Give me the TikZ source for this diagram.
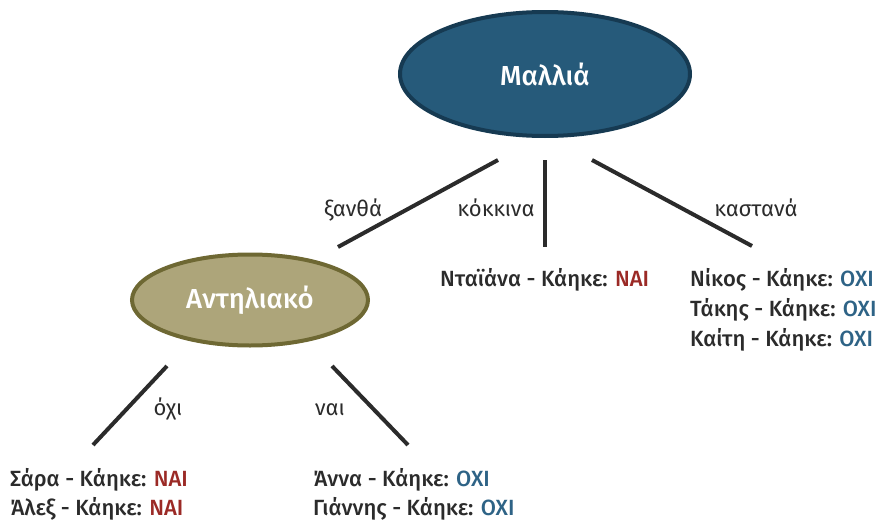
\documentclass[tikz,border=0pt]{standalone}
\usepackage{fontspec}
\setmainfont{Fira Sans}
\newfontfamily\medfont{Fira Sans}[UprightFont={* Medium}]
\usepackage{tikz}
\usetikzlibrary{shapes.geometric}

\definecolor{hairfill}{HTML}{265A7A}
\definecolor{hairline}{HTML}{163A52}
\definecolor{sunfill}{HTML}{ADA57A}
\definecolor{sunline}{HTML}{6E6833}
\definecolor{naired}{HTML}{9B2A26}
\definecolor{oxiblue}{HTML}{2E6386}
\definecolor{inkgray}{HTML}{2B2B2B}

\newcommand{\nai}{\textcolor{naired}{ΝΑΙ}}
\newcommand{\oxi}{\textcolor{oxiblue}{ΟΧΙ}}

\tikzset{
    question/.style={
           ellipse,
           line width=4pt,
           inner sep=0pt,
           text=white,
           font=\medfont\fontsize{27.5}{30}\selectfont
           },
    branch/.style={
           draw=inkgray,
           line width=4pt
           },
    choice/.style={
           anchor=base,
           inner sep=0pt,
           text=inkgray,
           font=\fontsize{22}{24}\selectfont
           },
    answer/.style={
           anchor=base west,
           inner sep=0pt,
           text=inkgray,
           font=\medfont\fontsize{22}{29}\selectfont
           },
}

\begin{document}
\begin{tikzpicture}[x=1pt,y=-1pt]
    \useasboundingbox (0,0) rectangle (879,522);

    % the two questions
    \node[question, fill=hairfill, draw=hairline,
          minimum width=290pt, minimum height=124pt] (hair) at (545,74) {Μαλλιά};
    \node[question, fill=sunfill, draw=sunline,
          minimum width=236pt, minimum height=91pt] (sun) at (250,300) {Αντηλιακό};

    % ends of the branches
    \coordinate (hair-a) at (498,160);
    \coordinate (hair-b) at (545,160);
    \coordinate (hair-c) at (592,160);
    \coordinate (blond)  at (338,247);
    \coordinate (red)    at (545,247);
    \coordinate (brown)  at (752,246);
    \coordinate (sun-a)  at (167,366);
    \coordinate (sun-b)  at (332,366);
    \coordinate (nosun)  at (93,445);
    \coordinate (yessun) at (408,445);

    \path[branch]
        (hair-a) edge (blond)
        (hair-b) edge (red)
        (hair-c) edge (brown)
        (sun-a)  edge (nosun)
        (sun-b)  edge (yessun);

    % branch labels
    \node[choice] (l-blond) at (353,216) {ξανθά};
    \node[choice] (l-red)   at (496,216) {κόκκινα};
    \node[choice] (l-brown) at (756,216) {καστανά};
    \node[choice] (l-no)    at (168,415) {όχι};
    \node[choice] (l-yes)   at (330,415) {ναι};

    % who got burnt
    \node[answer] (diana)  at (440,286) {Νταϊάνα - Κάηκε: \nai};
    \node[answer] (nikos)  at (690,286) {Νίκος - Κάηκε: \oxi};
    \node[answer] (takis)  at (690,316) {Τάκης - Κάηκε: \oxi};
    \node[answer] (kaiti)  at (690,346) {Καίτη - Κάηκε: \oxi};
    \node[answer] (sara)   at (10,486)  {Σάρα - Κάηκε: \nai};
    \node[answer] (alex)   at (10,515)  {Άλεξ - Κάηκε: \nai};
    \node[answer] (anna)   at (313,486) {Άννα - Κάηκε: \oxi};
    \node[answer] (giannis) at (313,515) {Γιάννης - Κάηκε: \oxi};

\end{tikzpicture}
\end{document}
